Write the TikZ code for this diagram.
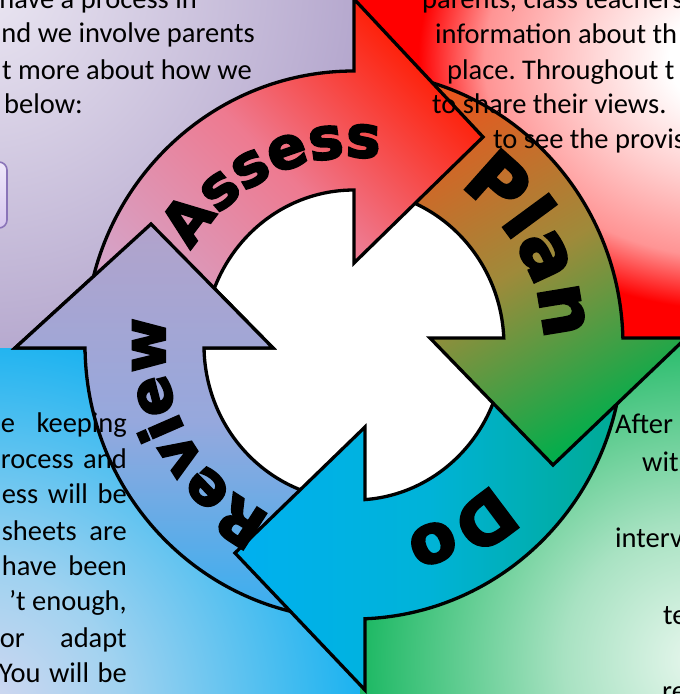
\documentclass[tikz,border=0pt]{standalone}
\usepackage{fontspec}
\setmainfont{Carlito}
\newfontfamily\labelfont{DejaVu Sans}[FakeBold=3.5]
\usetikzlibrary{decorations.text}
\frenchspacing

\definecolor{lilac}{HTML}{ECE8F3}
\definecolor{lilacdark}{HTML}{AB9CC7}
\definecolor{pinkpale}{HTML}{FFCCCC}
\definecolor{pinkmid}{HTML}{FF9494}
\definecolor{skypale}{HTML}{D6D8F0}
\definecolor{skymid}{HTML}{A0D2F0}
\definecolor{skyblue}{HTML}{10B0F0}
\definecolor{mintpale}{HTML}{E8F7EE}
\definecolor{mintmid}{HTML}{A8E2C2}
\definecolor{leafgreen}{HTML}{00B050}
\definecolor{assesspink}{HTML}{D6A2C6}
\definecolor{assessmid}{HTML}{EE7A90}
\definecolor{assessred}{HTML}{FF1A00}
\definecolor{planorange}{HTML}{E8561E}
\definecolor{planolive}{HTML}{9F8A3A}
\definecolor{plangreen}{HTML}{00AE4C}
\definecolor{doblue}{HTML}{00B0F0}
\definecolor{domid}{HTML}{00B3D8}
\definecolor{doteal}{HTML}{00AA92}
\definecolor{reviewlilac}{HTML}{B2A3CB}
\definecolor{reviewmid}{HTML}{96A8DD}
\definecolor{reviewblue}{HTML}{36AFF0}
\definecolor{boxpurple}{HTML}{8A74B8}
\definecolor{boxpale}{HTML}{EFE8FA}
\definecolor{boxlilac}{HTML}{D6C6EE}

\pgfdeclareradialshading{redglow}{\pgfpoint{0bp}{0bp}}{color(0bp)=(white); color(5bp)=(white); color(12bp)=(pinkpale); color(19bp)=(pinkmid); color(24bp)=(red); color(50bp)=(red)}
\pgfdeclareradialshading{blueglow}{\pgfpoint{0bp}{0bp}}{color(0bp)=(skypale); color(9bp)=(skymid); color(25bp)=(skyblue); color(50bp)=(skyblue)}
\pgfdeclareradialshading{greenglow}{\pgfpoint{0bp}{0bp}}{color(0bp)=(mintpale); color(9bp)=(mintmid); color(25bp)=(leafgreen); color(50bp)=(leafgreen)}

\newcommand\assesslabel{\labelfont\bfseries\fontsize{58}{60}\selectfont}
\newcommand\planlabel{\labelfont\bfseries\fontsize{74}{75}\selectfont}
\newcommand\dolabel{\labelfont\bfseries\fontsize{68}{70}\selectfont}
\newcommand\reviewlabel{\labelfont\bfseries\fontsize{59}{60}\selectfont}

\begin{document}
\begin{tikzpicture}[x=1pt,y=1pt,
	arrowline/.style={draw=black, line width=3.3pt, line join=miter},
	para/.style={font=\fontsize{28.5}{34}\selectfont, inner sep=0pt}]
	\useasboundingbox (0,0) rectangle (680,-694);
	\clip (0,0) rectangle (680,-694);

	% panels
	\fill[lilacdark] (0,0) rectangle (356,-348);
	\begin{scope}
		\clip (0,0) rectangle (356,-348);
		\shade[inner color=lilac, outer color=lilacdark] (-20,20) circle (450);
	\end{scope}
	\fill[red] (356,0) rectangle (680,-340);
	\begin{scope}
		\clip (356,0) rectangle (680,-340);
		\shade[shading=redglow] (735,-60) ellipse [x radius=330, y radius=260];
	\end{scope}
	\fill[skyblue] (0,-348) rectangle (360,-694);
	\begin{scope}
		\clip (0,-348) rectangle (360,-694);
		\shade[shading=blueglow] (-20,-714) circle (400);
	\end{scope}
	\fill[leafgreen] (360,-340) rectangle (680,-694);
	\begin{scope}
		\clip (360,-340) rectangle (680,-694);
		\shade[shading=greenglow] (700,-660) circle (380);
	\end{scope}
	\shade[draw=boxpurple, line width=1.6pt, rounded corners=8pt, top color=boxpale, bottom color=boxlilac] (-30,-162) rectangle (7,-228);

	% centre
	\fill[white] (354,-345) ellipse [x radius=151, y radius=156];

	% review
	\shadedraw[arrowline, top color=reviewlilac, bottom color=reviewblue, middle color=reviewmid] (354,-345) ++(-90:269 and 274) arc[start angle=-90, end angle=-179.37, x radius=269, y radius=274] -- (15,-348) -- (151,-224) -- (273,-348) -- (204,-348) arc[start angle=-178.89, end angle=-90, x radius=150, y radius=155] -- cycle;
	% do
	\shadedraw[arrowline, left color=doblue, right color=doteal, middle color=domid] (354,-345) ++(0:269 and 274) arc[start angle=0, end angle=-87.66, x radius=269, y radius=274] -- (365,-690) -- (235,-553) -- (365,-427) -- (365,-499.6) arc[start angle=-85.79, end angle=0, x radius=150, y radius=155] -- cycle;
	% plan
	\shadedraw[arrowline, top color=planorange, bottom color=plangreen, middle color=planolive, shading angle=30] (354,-345) ++(88:269 and 274) arc[start angle=88, end angle=1.46, x radius=269, y radius=274] -- (686,-338) -- (553,-465) -- (430,-338) -- (503.8,-338) arc[start angle=2.59, end angle=88, x radius=150, y radius=155] -- cycle;
	% assess
	\shadedraw[arrowline, top color=assessred, bottom color=assesspink, middle color=assessmid, shading angle=-45] (354,-345) ++(178:269 and 274) arc[start angle=178, end angle=90, x radius=269, y radius=274] -- (354,1) -- (483,-137) -- (354,-263) -- (354,-190) arc[start angle=90, end angle=178, x radius=150, y radius=155] -- cycle;
	% review head on top of assess
	\begin{scope}
		\clip (0,-351) rectangle (300,-200);
		\shadedraw[arrowline, top color=reviewlilac, bottom color=reviewblue, middle color=reviewmid] (354,-345) ++(-90:269 and 274) arc[start angle=-90, end angle=-179.37, x radius=269, y radius=274] -- (15,-348) -- (151,-224) -- (273,-348) -- (204,-348) arc[start angle=-178.89, end angle=-90, x radius=150, y radius=155] -- cycle;
	\end{scope}

	% label
	\path[decorate, decoration={text along path, text align=center, text={|\assesslabel|Assess}}] (354,-345) ++(176:188) arc[start angle=176, end angle=56, radius=188];
	\path[decorate, decoration={text along path, text align=center, text={|\planlabel|Plan}}] (354,-345) ++(89:190) arc[start angle=89, end angle=-31, radius=190];
	\path[decorate, decoration={text along path, text align=center, text={|\dolabel|Do}}] (354,-345) ++(0:195) arc[start angle=0, end angle=-120, radius=195];
	\path[decorate, decoration={text along path, text align=center, text={|\reviewlabel|Review}}] (354,-345) ++(268:189) arc[start angle=268, end angle=148, radius=189];

	% text
	\node[para, anchor=base east] (tl1) at (197,-8) {have a process in};
	\node[para, anchor=base east] (tl2) at (255,-42) {nd we involve parents};
	\node[para, anchor=base east] (tl3) at (252,-79) {t more about how we};
	\node[para, anchor=base east] (tl4) at (83,-113) {below:};

	\node[para, anchor=base west] (tr1) at (422,-8) {parents, class teachers};
	\node[para, anchor=base west] (tr2) at (435,-43) {information about th};
	\node[para, anchor=base west] (tr3) at (447,-79) {place. Throughout t};
	\node[para, anchor=base west] (tr4) at (432,-113) {to share their views.};
	\node[para, anchor=base west] (tr5) at (493,-148) {to see the provis};

	\node[para, anchor=base east] (bl1) at (127,-432) {\makebox[126pt][s]{e keeping}};
	\node[para, anchor=base east] (bl2) at (127,-468) {\makebox[126pt][s]{rocess and}};
	\node[para, anchor=base east] (bl3) at (127,-503) {\makebox[125pt][s]{ess will be}};
	\node[para, anchor=base east] (bl4) at (127,-540) {\makebox[125pt][s]{sheets are}};
	\node[para, anchor=base east] (bl5) at (127,-575) {\makebox[125pt][s]{have been}};
	\node[para, anchor=base east] (bl6) at (127,-610) {’t enough,};
	\node[para, anchor=base east] (bl7) at (127,-647) {\makebox[127pt][s]{or adapt}};
	\node[para, anchor=base east] (bl8) at (127,-682) {\makebox[128pt][s]{You will be}};

	\node[para, anchor=base west] (br1) at (615,-433) {After};
	\node[para, anchor=base west] (br2) at (642,-471) {wit};
	\node[para, anchor=base west] (br3) at (615,-547) {interv};
	\node[para, anchor=base west] (br4) at (663,-624) {te};
	\node[para, anchor=base west] (br5) at (662,-700) {re};
\end{tikzpicture}
\end{document}
